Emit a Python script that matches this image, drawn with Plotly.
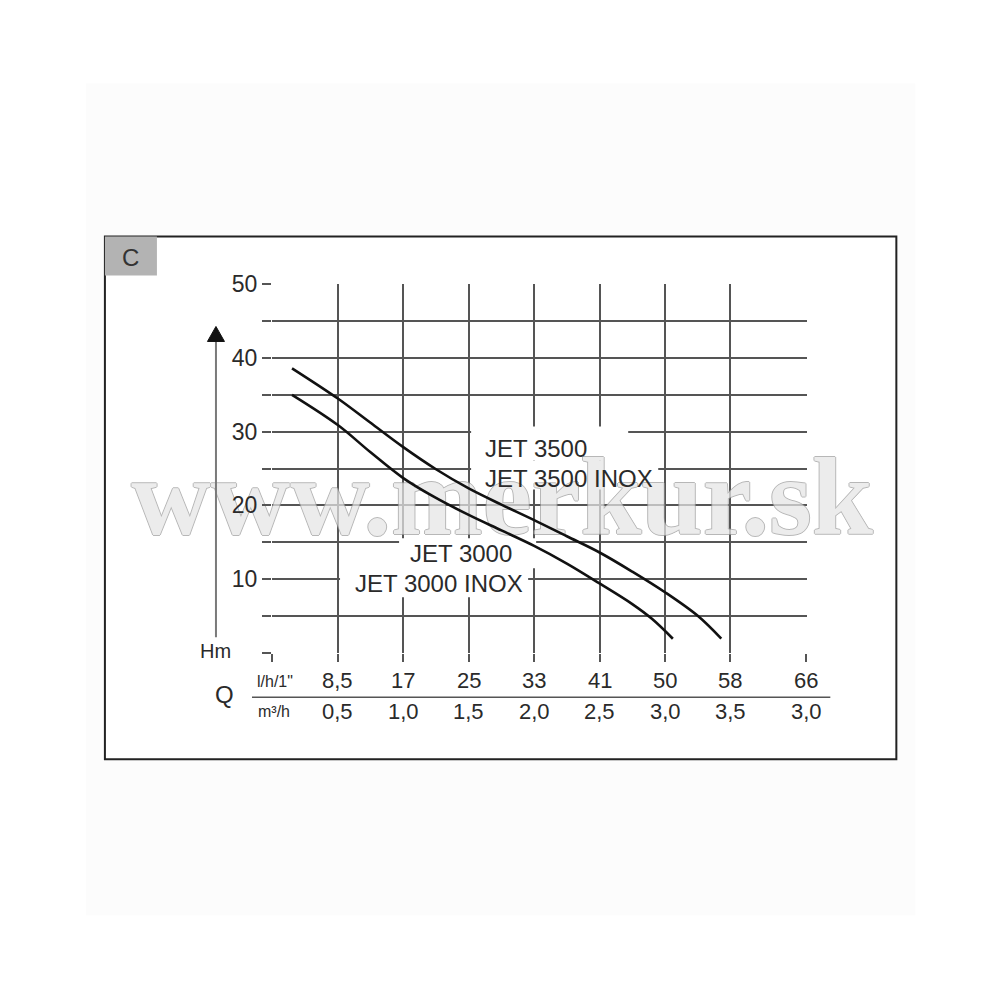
import plotly.graph_objects as go

# ---- data (Q in m3/h, H in m) ----
q_3500 = [0.15, 0.50, 0.75, 1.00, 1.25, 1.50, 1.75, 2.00, 2.25, 2.50, 2.75, 3.00, 3.25, 3.43]
h_3500 = [38.6, 34.5, 31.2, 27.9, 24.9, 22.3, 20.1, 18.0, 15.8, 13.6, 11.0, 8.2, 5.0, 1.9]
q_3000 = [0.15, 0.50, 0.75, 1.00, 1.25, 1.50, 1.75, 2.00, 2.25, 2.50, 2.75, 2.90, 3.06]
h_3000 = [35.0, 30.9, 27.2, 23.7, 21.0, 18.7, 16.6, 14.5, 12.1, 9.4, 6.6, 4.6, 1.9]

y_grid = [0, 5, 10, 15, 20, 25, 30, 35, 40, 45, 50]
y_labels = ["", "", "10", "", "20", "", "30", "", "40", "", "50"]
x_grid = [0, 0.5, 1.0, 1.5, 2.0, 2.5, 3.0, 3.5, 4.08]
x_labels_lh = ["8,5", "17", "25", "33", "41", "50", "58", "66"]
x_labels_m3 = ["0,5", "1,0", "1,5", "2,0", "2,5", "3,0", "3,5", "3,0"]

# ---- geometry helpers (target pixel -> paper / data) ----
OFF = 8  # page body margin
L, R, T, B = 272.0, 806.7, 283.5, 652.7
XR = [-0.003, 4.085]
YR = [-0.04, 50.04]
def PX(px):
    return (px - L) / (R - L)
def PY(py):
    return (B - py) / (B - T)
def XD(px):
    return XR[0] + PX(px) * (XR[1] - XR[0])
def YD(py):
    return YR[0] + PY(py) * (YR[1] - YR[0])

GRID = "#555555"
TXT = "#2a2a2a"
FONT = "Liberation Sans, Arial, sans-serif"

fig = go.Figure()
# watermark (drawn first so the curves sit on top of it)
fig.add_trace(go.Scatter(
    x=[XD(502)], y=[YD(506)], mode="text", text=["www.merkur.sk"], textposition="middle center",
    textfont=dict(family="Liberation Serif, Times New Roman, serif", size=110, color="#e6e6e6", weight="bold",
                  shadow="1px 0 0 #9c9c9c, -1px 0 0 #9c9c9c, 0 1px 0 #9c9c9c, 0 -1px 0 #9c9c9c"),
    opacity=0.72, showlegend=False, hoverinfo="skip", cliponaxis=False))
fig.add_trace(go.Scatter(x=q_3500, y=h_3500, mode="lines", line=dict(color="#111", width=2.6, shape="spline", smoothing=1.0),
                         name="JET 3500", showlegend=False, hoverinfo="skip"))
fig.add_trace(go.Scatter(x=q_3000, y=h_3000, mode="lines", line=dict(color="#111", width=2.6, shape="spline", smoothing=1.0),
                         name="JET 3000", showlegend=False, hoverinfo="skip"))

shapes = []
# faint outer background
shapes.append(dict(type="rect", xref="paper", yref="paper", x0=PX(86), x1=PX(915), y0=PY(915), y1=PY(83),
                   fillcolor="#fcfcfc", line=dict(width=0), layer="below"))
# frame
shapes.append(dict(type="rect", xref="paper", yref="paper", x0=PX(105), x1=PX(896), y0=PY(759), y1=PY(236),
                   fillcolor="white", line=dict(color="#222", width=2), layer="below"))
# C box
shapes.append(dict(type="rect", xref="paper", yref="paper", x0=PX(105), x1=PX(157), y0=PY(275), y1=PY(236),
                   fillcolor="#b3b3b3", line=dict(width=0), layer="below"))
# arrow shaft + head
shapes.append(dict(type="line", xref="paper", yref="paper", x0=PX(216), x1=PX(216), y0=PY(637), y1=PY(338),
                   line=dict(color="#7a7a7a", width=2)))
shapes.append(dict(type="path", xref="paper", yref="paper",
                   path=f"M {PX(207.5)} {PY(341)} L {PX(224.5)} {PY(341)} L {PX(216)} {PY(326)} Z",
                   fillcolor="#111", line=dict(color="#111", width=1)))
# divider between the two Q rows
shapes.append(dict(type="line", xref="paper", yref="paper", x0=PX(252), x1=PX(830), y0=PY(697), y1=PY(697),
                   line=dict(color=GRID, width=1.5)))
# white backgrounds behind curve labels (hide grid lines, stay under curves)
for x0, x1, y0, y1 in [(471, 628, 426, 460), (471, 658, 460, 489), (399, 536, 538, 568), (340, 528, 567, 597)]:
    shapes.append(dict(type="rect", xref="x", yref="y", x0=XD(x0), x1=XD(x1), y0=YD(y1), y1=YD(y0),
                       fillcolor="white", line=dict(width=0), layer="between"))

ann = []
for xv, t1, t2 in zip(x_grid[1:], x_labels_lh, x_labels_m3):
    ann.append(dict(x=xv, xref="x", y=PY(680), yref="paper", text=t1, showarrow=False,
                    xanchor="center", yanchor="middle", font=dict(family=FONT, size=22, color=TXT)))
    ann.append(dict(x=xv, xref="x", y=PY(711), yref="paper", text=t2, showarrow=False,
                    xanchor="center", yanchor="middle", font=dict(family=FONT, size=22, color=TXT)))
extra = [
    dict(x=PX(275), y=PY(681), text="l/h/1\"", font=dict(family=FONT, size=16, color=TXT)),
    dict(x=PX(274), y=PY(711), text="m³/h", font=dict(family=FONT, size=16, color=TXT)),
    dict(x=PX(225), y=PY(694), text="Q", font=dict(family=FONT, size=24, color=TXT)),
    dict(x=PX(216), y=PY(651), text="Hm", font=dict(family=FONT, size=20, color=TXT)),
    dict(x=PX(131), y=PY(257), text="C", font=dict(family=FONT, size=24, color="#333")),
]
for a in extra:
    a.update(xref="paper", yref="paper", showarrow=False, xanchor="center", yanchor="middle")
ann += extra

# curve labels
for txt, px, py in [("JET 3500", 483, 448), ("JET 3500 INOX", 483, 478),
                    ("JET 3000", 408, 553), ("JET 3000 INOX", 353, 583)]:
    ann.append(dict(x=PX(px), y=PY(py), xref="paper", yref="paper", text=txt, showarrow=False,
                    xanchor="left", yanchor="middle", font=dict(family=FONT, size=24, color=TXT)))

fig.update_layout(
    width=1000, height=1000, autosize=False,
    margin=dict(l=L - OFF, r=1000 - R + OFF, t=T - OFF, b=1000 - B + OFF, pad=0),
    paper_bgcolor="white", plot_bgcolor="white",
    shapes=shapes, annotations=ann, showlegend=False,
    xaxis=dict(range=XR, tickmode="array", tickvals=x_grid, showticklabels=False,
               showgrid=True, gridcolor=GRID, gridwidth=1.6, zeroline=False, showline=False,
               ticks="outside", ticklen=8, tickcolor=GRID, tickwidth=1.6, fixedrange=True),
    yaxis=dict(range=YR, tickmode="array", tickvals=y_grid, ticktext=y_labels,
               showgrid=True, gridcolor=GRID, gridwidth=1.6, zeroline=False, showline=False,
               ticks="outside", ticklen=9, tickcolor=GRID, tickwidth=1.6,
               tickfont=dict(family=FONT, size=23, color=TXT), fixedrange=True),
)

fig.write_html("out.html")
